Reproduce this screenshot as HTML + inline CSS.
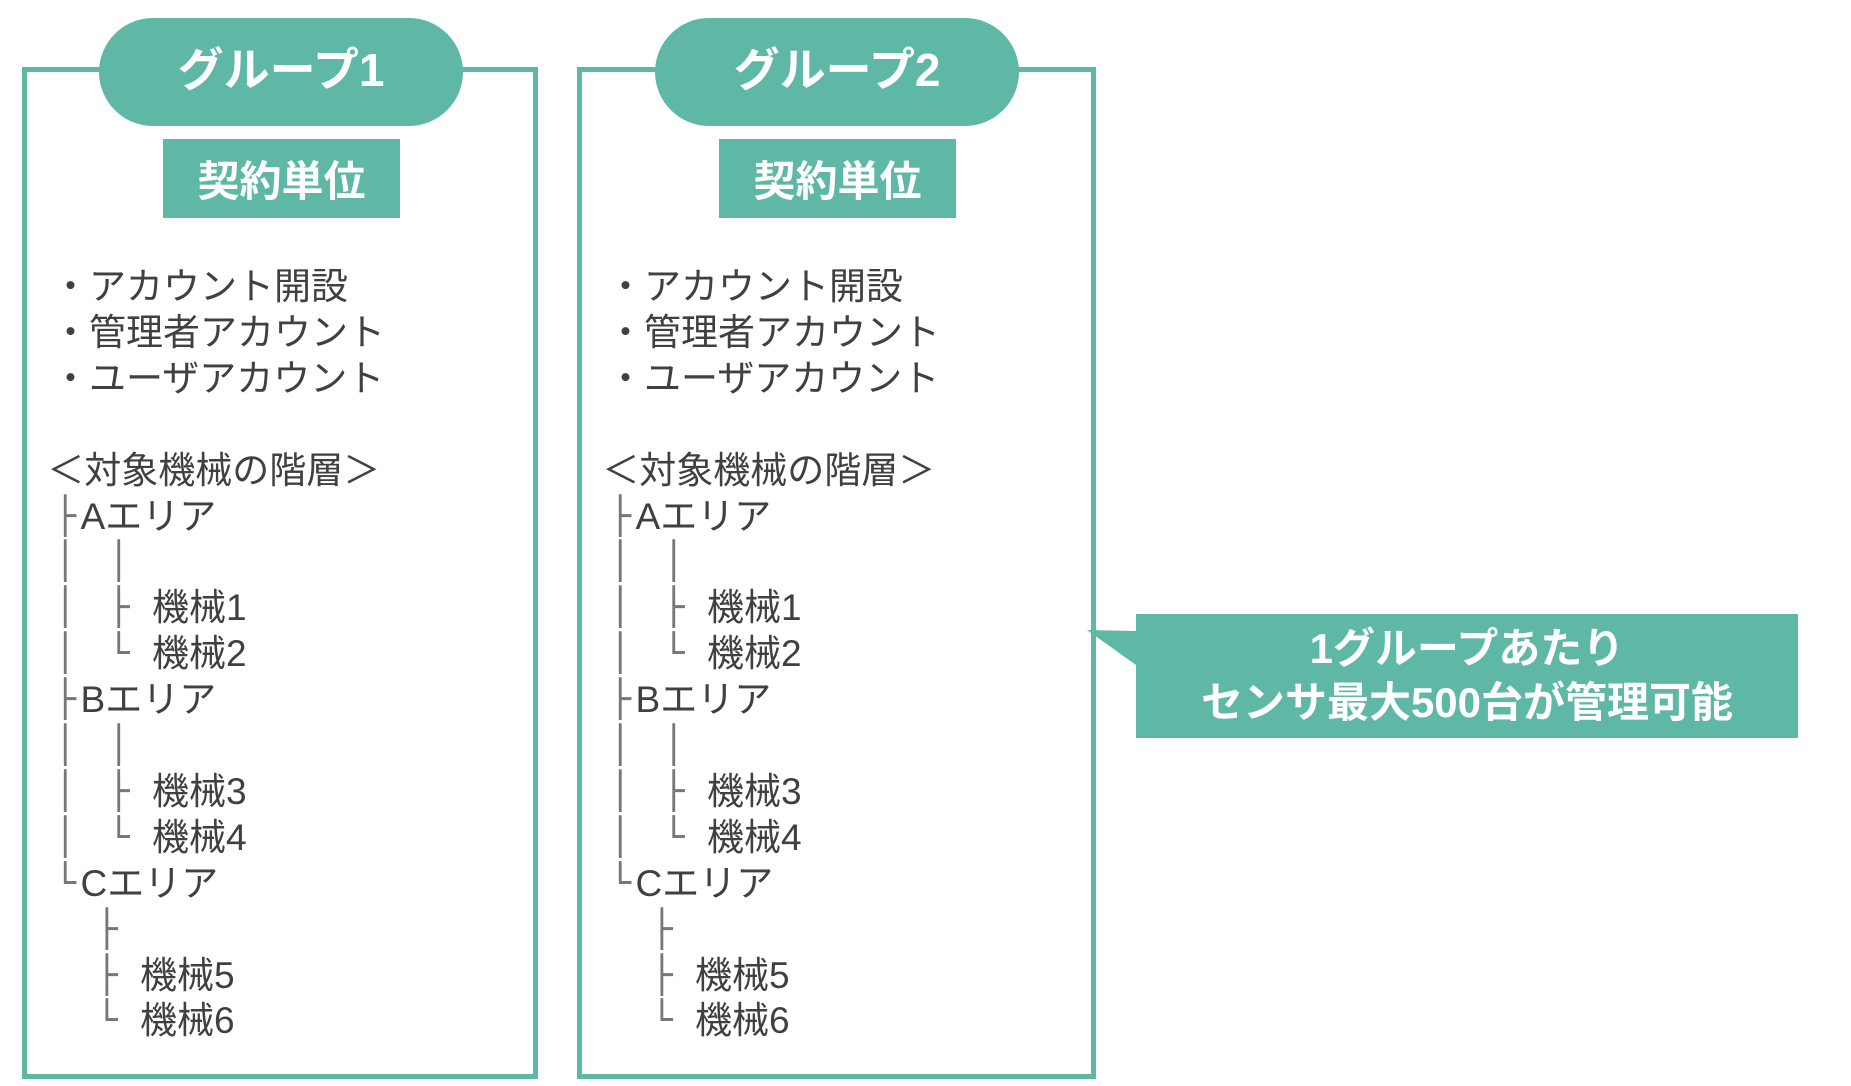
<!DOCTYPE html>
<html><head><meta charset="utf-8"><style>
body{margin:0;width:1851px;height:1086px;background:#fff;position:relative;overflow:hidden;font-family:"Liberation Sans","Noto Sans CJK JP",sans-serif}
.box{position:absolute;border:5px solid #5fb8a5;box-sizing:border-box}
.pill{position:absolute;background:#5fb8a5;border-radius:55px;color:#fff;font-weight:bold;font-size:46px;display:flex;align-items:center;justify-content:center;padding-bottom:10px;box-sizing:border-box}
.lab{position:absolute;background:#5fb8a5;color:#fff;font-weight:bold;font-size:42px;display:flex;align-items:center;justify-content:center}
.t{position:absolute;font-size:37px;color:#404040;white-space:pre;line-height:46px;height:46px}
</style></head><body>
<div class="box" style="left:22px;top:67px;width:516px;height:1012px"></div>
<div class="box" style="left:577px;top:67px;width:519px;height:1012px"></div>
<div class="pill" style="left:99px;top:18px;width:364px;height:108px">グループ1</div>
<div class="pill" style="left:655px;top:18px;width:364px;height:108px">グループ2</div>
<div class="lab" style="left:163px;top:139px;width:237px;height:79px">契約単位</div>
<div class="lab" style="left:719px;top:139px;width:237px;height:79px">契約単位</div>
<svg style="position:absolute;left:0;top:0" width="1851" height="1086"><polygon points="1087,630 1136,631 1136,665" fill="#5fb8a5"/></svg>
<div class="lab" style="left:1136px;top:614px;width:662px;height:124px;flex-direction:column;line-height:54px;text-align:center">1グループあたり<br>センサ最大500台が管理可能</div>
<div id="g1"></div>
<script>
function build(ox){
var L=[[0,"・アカウント開設"],[0,"・管理者アカウント"],[0,"・ユーザアカウント"],[0,""],[-4,"＜対象機械の階層＞"],
[2,"├"],[24,"Aエリア"],null,[2,"│"],[47,"│"],null,[2,"│"],[47,"├"],[84,"機械1"],null,[2,"│"],[47,"└"],[84,"機械2"],null,
[2,"├"],[24,"Bエリア"],null,[2,"│"],[47,"│"],null,[2,"│"],[47,"├"],[84,"機械3"],null,[2,"│"],[47,"└"],[84,"機械4"],null,
[2,"└"],[24,"Cエリア"],null,[37,"├"],null,[37,"├"],[74,"機械5"],null,[37,"└"],[74,"機械6"]];
var rows=[[L[0]],[L[1]],[L[2]],[],[L[4]]],cur=[];
for(var i=5;i<L.length;i++){if(L[i]===null){rows.push(cur);cur=[];}else cur.push(L[i]);}
rows.push(cur);
var h="";
rows.forEach(function(r,k){var y=264+k*45.9;r.forEach(function(c){
var x=ox+c[0]*1.19;if(c[1]=="│"||c[1]=="├"||c[1]=="└")h+='<div class="t" style="left:'+x+'px;top:'+y+'px;font-family:\'DejaVu Sans Mono\',monospace;font-size:36px;color:#777">'+c[1]+'</div>';
else h+='<div class="t" style="left:'+x+'px;top:'+y+'px">'+c[1]+'</div>';});});
return h;}
document.getElementById("g1").innerHTML=build(52)+build(607);
</script>
</body></html>
